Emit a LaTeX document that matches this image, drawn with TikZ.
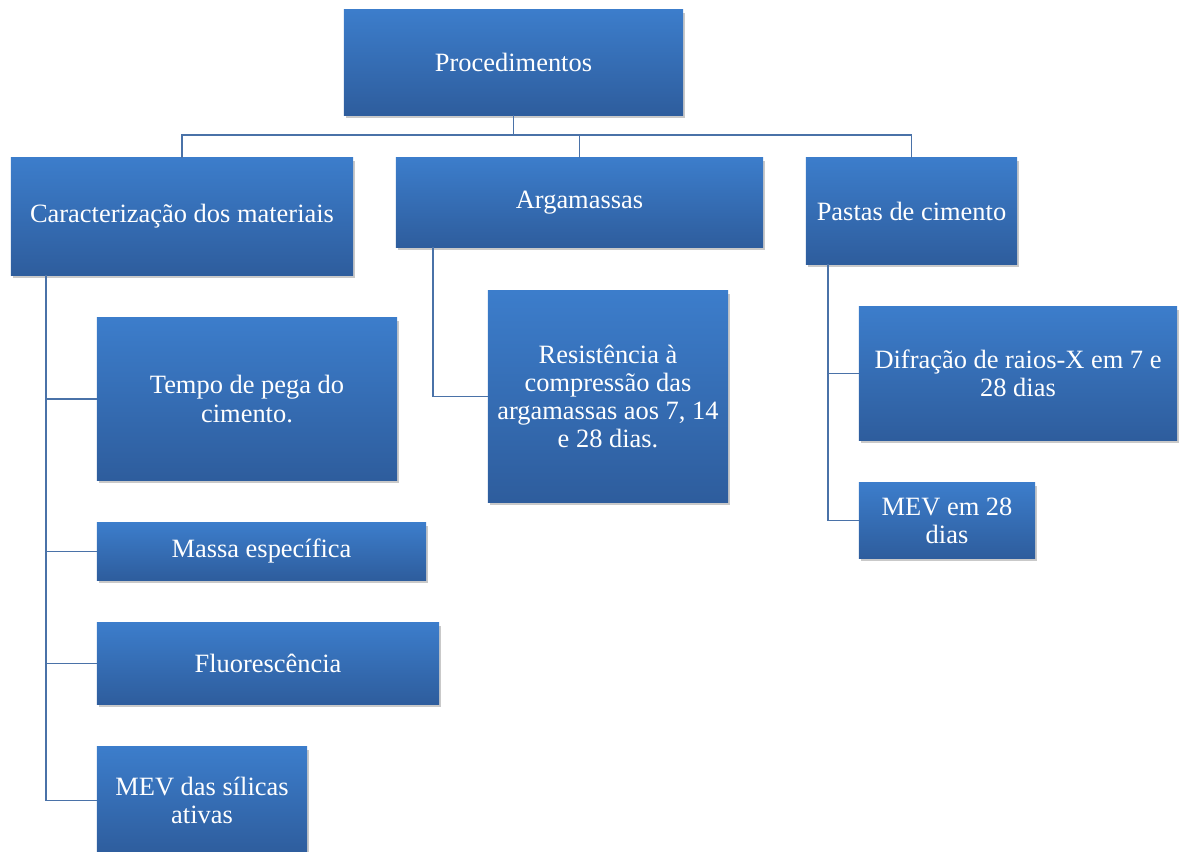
\documentclass[tikz,border=0pt]{standalone}
\usepackage{fontspec}
\setmainfont{Liberation Serif}
\usepackage{tikz}
\usepackage{xcolor}
\usetikzlibrary{shadows}

\definecolor{boxtop}{HTML}{3C7DCB}
\definecolor{boxbot}{HTML}{2E5D9D}
\definecolor{linecol}{HTML}{4A72A8}

\tikzset{
    box/.style={rectangle, top color=boxtop, bottom color=boxbot, draw=none,
        text=white, align=center, inner sep=2pt,
        font=\fontsize{18.8}{20}\selectfont,
        drop shadow={shadow xshift=0.05cm, shadow yshift=-0.07cm, opacity=0.3, fill=black!70}},
    conn/.style={draw=linecol, line width=1.4pt}
}

\begin{document}
\begin{tikzpicture}[x=0.025cm, y=-0.025cm]
    \useasboundingbox (0,0) rectangle (1184,852);

    % Top level
    \node[box, minimum width=8.475cm, minimum height=2.625cm] (root) at (513.5,62.5) {Procedimentos};

    % Second level
    \node[box, minimum width=8.55cm, minimum height=2.925cm] (cara) at (182,216.5) {Caracterização dos materiais};
    \node[box, minimum width=9.175cm, minimum height=2.225cm] (arga) at (579.5,202.5) {Argamassas};
    \node[box, minimum width=5.275cm, minimum height=2.65cm] (pastas) at (911.5,211) {Pastas de cimento};

    % Caracterizacao
    \node[box, minimum width=7.5cm, minimum height=4.05cm] (tempo) at (247,399) {Tempo de pega do\\cimento.};
    \node[box, minimum width=8.225cm, minimum height=1.425cm] (massa) at (261.5,551.5) {Massa específica};
    \node[box, minimum width=8.55cm, minimum height=2.025cm] (fluor) at (268,663.5) {Fluorescência};
    \node[box, minimum width=5.25cm, minimum height=2.675cm] (mevsil) at (202,800.5) {MEV das sílicas\\ativas};

    % Argamassas
    \node[box, minimum width=6cm, minimum height=5.275cm] (resist) at (608,396.5) {Resistência à\\compressão das\\argamassas aos 7, 14\\e 28 dias.};

    % Pastas
    \node[box, minimum width=7.95cm, minimum height=3.325cm] (difr) at (1018,373.5) {Difração de raios-X em 7 e\\28 dias};
    \node[box, minimum width=4.4cm, minimum height=1.875cm] (mevpasta) at (947,520.5) {MEV em 28\\dias};

    % Connectors
    \coordinate (bus) at (513.5,135);
    \coordinate (caratrunk) at (46,275);
    \coordinate (argatrunk) at (433,247);
    \coordinate (pastatrunk) at (828,264);

    \draw[conn] (root.south) -- (bus);
    \draw[conn] (bus) -| (cara.north);
    \draw[conn] (bus) -| (arga.north);
    \draw[conn] (bus) -| (pastas.north);

    \draw[conn] (caratrunk) |- (tempo.west);
    \draw[conn] (caratrunk) |- (massa.west);
    \draw[conn] (caratrunk) |- (fluor.west);
    \draw[conn] (caratrunk) |- (mevsil.west);

    \draw[conn] (argatrunk) |- (resist.west);

    \draw[conn] (pastatrunk) |- (difr.west);
    \draw[conn] (pastatrunk) |- (mevpasta.west);
\end{tikzpicture}
\end{document}
